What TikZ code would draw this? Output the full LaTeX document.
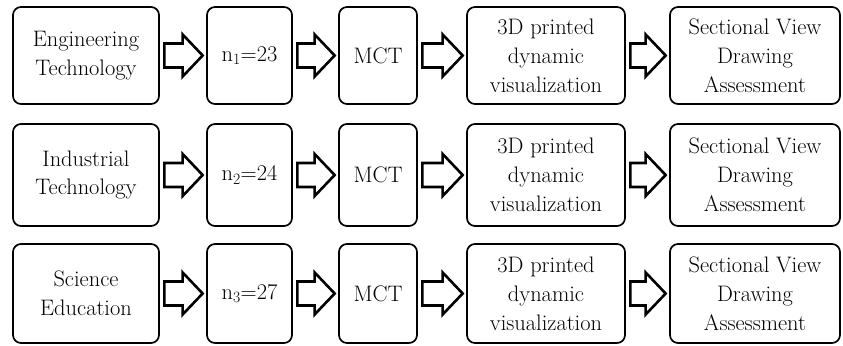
\documentclass[tikz,border=0pt]{standalone}
\usetikzlibrary{calc}
\tikzset{
  box/.style={draw=black, line width=1.7bp, rounded corners=8bp, align=center,
    inner sep=0pt, font=\fontsize{22.5}{29}\selectfont, text=black},
  blockarrow/.style={draw=black, line width=2.6bp, line join=miter, fill=white}
}
\newcommand{\blockarr}[2]{%
  \draw[blockarrow] ($(#1.east)+(4.5,12)$) -- ($(#2.west)+(-23.5,12)$) --
    ($(#2.west)+(-23.5,21)$) -- ($(#2.west)+(-3.5,0)$) --
    ($(#2.west)+(-23.5,-21)$) -- ($(#2.west)+(-23.5,-12)$) --
    ($(#1.east)+(4.5,-12)$) -- cycle;}
\begin{document}
\begin{tikzpicture}[x=1bp,y=1bp]
\fill[white] (0,0) rectangle (843,-345);
\useasboundingbox (0,0) rectangle (843,-345);
% row 1
\node[box, minimum width=146bp, minimum height=97bp] (a1) at (86,-55.5) {Engineering\\Technology};
\node[box, minimum width=85bp, minimum height=97bp] (b1) at (249.5,-55.5) {n\textsubscript{1}=23};
\node[box, minimum width=78bp, minimum height=97bp] (c1) at (378,-55.5) {MCT};
\node[box, minimum width=158bp, minimum height=97bp] (d1) at (546,-55.5) {3D printed\\dynamic\\visualization};
\node[box, minimum width=170bp, minimum height=97bp] (e1) at (755,-55.5) {Sectional View\\Drawing\\Assessment};
% row 2
\node[box, minimum width=146bp, minimum height=102bp] (a2) at (86,-175) {Industrial\\Technology};
\node[box, minimum width=85bp, minimum height=102bp] (b2) at (249.5,-175) {n\textsubscript{2}=24};
\node[box, minimum width=78bp, minimum height=102bp] (c2) at (378,-175) {MCT};
\node[box, minimum width=158bp, minimum height=102bp] (d2) at (546,-175) {3D printed\\dynamic\\visualization};
\node[box, minimum width=170bp, minimum height=102bp] (e2) at (755,-175) {Sectional View\\Drawing\\Assessment};
% row 3
\node[box, minimum width=146bp, minimum height=99bp] (a3) at (86,-293.5) {Science\\Education};
\node[box, minimum width=85bp, minimum height=99bp] (b3) at (249.5,-293.5) {n\textsubscript{3}=27};
\node[box, minimum width=78bp, minimum height=99bp] (c3) at (378,-293.5) {MCT};
\node[box, minimum width=158bp, minimum height=99bp] (d3) at (546,-293.5) {3D printed\\dynamic\\visualization};
\node[box, minimum width=170bp, minimum height=99bp] (e3) at (755,-293.5) {Sectional View\\Drawing\\Assessment};
% arrows
\foreach \r in {1,2,3}{
  \blockarr{a\r}{b\r}
  \blockarr{b\r}{c\r}
  \blockarr{c\r}{d\r}
  \blockarr{d\r}{e\r}
}
\end{tikzpicture}
\end{document}
